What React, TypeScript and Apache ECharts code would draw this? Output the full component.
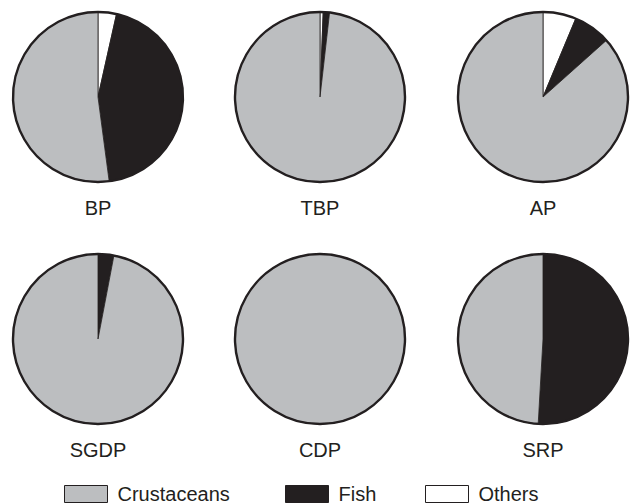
import React, { useEffect, useRef } from "react";
import * as echarts from "echarts";

const sites = ["BP", "TBP", "AP", "SGDP", "CDP", "SRP"];
const categories = ["Others", "Fish", "Crustaceans"];
const others = [3.5, 0.6, 6.3, 0, 0, 0];
const fish = [44.4, 1.2, 7.1, 3.0, 0, 50.9];
const crustaceans = [52.1, 98.2, 86.6, 97.0, 100, 49.1];

const colors: Record<string, string> = {
  Crustaceans: "#bcbec0",
  Fish: "#231f20",
  Others: "#ffffff",
};

const colX = [98, 320, 543];
const rowY = [97, 339];
const labelY = [198, 440];
const R = 85;
const legendOrder = ["Crustaceans", "Fish", "Others"];
const legendLeft = [64, 285, 425];

export default function App() {
  const ref = useRef<HTMLDivElement>(null);
  useEffect(() => {
    if (!ref.current) return;
    const chart = echarts.init(ref.current, undefined, { renderer: "svg" });
    const font = "'Liberation Sans', Arial, Helvetica, sans-serif";
    const series: any[] = [];
    const titles: any[] = [];
    sites.forEach((site, i) => {
      const cx = colX[i % 3];
      const cy = rowY[Math.floor(i / 3)];
      const vals = [others[i], fish[i], crustaceans[i]];
      const data = categories
        .map((c, k) => ({ name: c, value: vals[k], itemStyle: { color: colors[c] } }))
        .filter((d) => d.value > 0);
      series.push({
        type: "pie",
        name: site,
        center: [cx, cy],
        radius: [0, R],
        startAngle: 90,
        clockwise: true,
        label: { show: false },
        labelLine: { show: false },
        emphasis: { disabled: true },
        itemStyle: { borderColor: "#231f20", borderWidth: 0.8 },
        data,
      });
      series.push({
        type: "pie",
        name: site + "-outline",
        center: [cx, cy],
        radius: [0, R],
        silent: true,
        z: 5,
        label: { show: false },
        labelLine: { show: false },
        emphasis: { disabled: true },
        itemStyle: { color: "rgba(0,0,0,0)", borderColor: "#231f20", borderWidth: 2.4 },
        data: [{ name: "outline", value: 1 }],
      });
      titles.push({
        text: site,
        left: cx,
        top: labelY[Math.floor(i / 3)],
        textAlign: "center",
        padding: 0,
        textStyle: { fontFamily: font, fontSize: 20, fontWeight: "normal", color: "#231f20" },
      });
    });
    const legends = legendOrder.map((name, k) => ({
      data: [name],
      left: legendLeft[k],
      top: 484,
      padding: 0,
      itemWidth: 43,
      itemHeight: 17,
      icon: "rect",
      selectedMode: false,
      itemStyle: { borderColor: "#231f20", borderWidth: 1 },
      textStyle: { fontFamily: font, fontSize: 20, color: "#231f20", padding: [0, 0, 0, 5] },
    }));
    chart.setOption({
      animation: false,
      backgroundColor: "#ffffff",
      title: titles,
      legend: legends,
      series,
    });
    return () => chart.dispose();
  }, []);
  return (
    <div
      ref={ref}
      style={{ position: "fixed", left: 0, top: 0, width: 631, height: 504 }}
    />
  );
}
